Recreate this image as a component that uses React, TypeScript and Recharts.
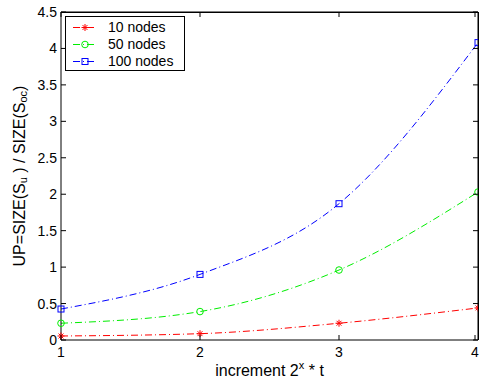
import React from "react";
import { LineChart, Line, XAxis, YAxis, Label, ReferenceLine } from "recharts";

const increments = [1, 2, 3, 4];
const nodes10 = [0.055, 0.087, 0.23, 0.44];
const nodes50 = [0.23, 0.39, 0.96, 2.03];
const nodes100 = [0.425, 0.9, 1.87, 4.08];
const xTicks = [1, 2, 3, 4];
const yTicks = [0, 0.5, 1, 1.5, 2, 2.5, 3, 3.5, 4, 4.5];

const seriesKeys = ["n10", "n50", "n100"];
const seriesNames = ["10 nodes", "50 nodes", "100 nodes"];
const seriesColors = ["#ff0000", "#00ee00", "#0000ff"];

const data = increments.map((x, i) => ({
  x,
  n10: nodes10[i],
  n50: nodes50[i],
  n100: nodes100[i],
}));

const FONT = "'Liberation Sans', Arial, Helvetica, sans-serif";
const DASH = "7 3 1 3";

// layout
const W = 479;
const H = 381;
const MARGIN = { top: 12, right: 1, left: 0, bottom: 0 };
const Y_AXIS_W = 61;
const X_AXIS_H = 41;
const PLOT_TOP = MARGIN.top;
const PLOT_LEFT = MARGIN.left + Y_AXIS_W;
const PLOT_RIGHT = W - MARGIN.right;
const PLOT_BOTTOM = H - MARGIN.bottom - X_AXIS_H;
const TICK_LEN = 5;

const Star = ({ cx, cy, color }: any) => {
  if (cx == null || cy == null) return null;
  const r = 3.5;
  const d = r * 0.7;
  return (
    <g stroke={color} strokeWidth={1}>
      <line x1={cx - r} y1={cy} x2={cx + r} y2={cy} />
      <line x1={cx} y1={cy - r} x2={cx} y2={cy + r} />
      <line x1={cx - d} y1={cy - d} x2={cx + d} y2={cy + d} />
      <line x1={cx - d} y1={cy + d} x2={cx + d} y2={cy - d} />
    </g>
  );
};

const Circle = ({ cx, cy, color }: any) => {
  if (cx == null || cy == null) return null;
  return <circle cx={cx} cy={cy} r={3.3} fill="none" stroke={color} strokeWidth={1} />;
};

const Square = ({ cx, cy, color }: any) => {
  if (cx == null || cy == null) return null;
  return <rect x={cx - 3} y={cy - 3} width={6} height={6} fill="none" stroke={color} strokeWidth={1} />;
};

const markers = [Star, Circle, Square];

// y ticks: label on the left, inward ticks on left and right edges
const YTick = ({ x, y, payload }: any) => {
  const axisX = x + 4;
  return (
    <g>
      <line x1={axisX} y1={y} x2={axisX + TICK_LEN} y2={y} style={{ stroke: "#000", strokeWidth: 1 }} />
      <line x1={PLOT_RIGHT - TICK_LEN} y1={y} x2={PLOT_RIGHT} y2={y} style={{ stroke: "#000", strokeWidth: 1 }} />
      <text x={x} y={y} dy={5} textAnchor="end" fontFamily={FONT} fontSize={14} fill="#000">
        {payload.value}
      </text>
    </g>
  );
};

// x ticks: label below, inward ticks on bottom and top edges
const XTick = ({ x, y, payload }: any) => (
  <g>
    <line x1={x} y1={y} x2={x} y2={y - TICK_LEN} style={{ stroke: "#000", strokeWidth: 1 }} />
    <line x1={x} y1={PLOT_TOP} x2={x} y2={PLOT_TOP + TICK_LEN} style={{ stroke: "#000", strokeWidth: 1 }} />
    <text x={x} y={y} dy={17} textAnchor="middle" fontFamily={FONT} fontSize={14} fill="#000">
      {payload.value}
    </text>
  </g>
);

const LegendBox = () => (
  <div
    style={{
      position: "absolute",
      left: 65,
      top: 16,
      border: "1px solid #000",
      background: "#fff",
      width: 118,
      height: 53,
      fontFamily: FONT,
      fontSize: 14,
      color: "#000",
      lineHeight: "17px",
    }}
  >
    {seriesNames.map((name, i) => {
      const M = markers[i];
      return (
        <div key={name} style={{ display: "flex", alignItems: "center", height: 17, marginTop: i === 0 ? 2 : 0 }}>
          <svg width={40} height={17} style={{ display: "block" }}>
            <line x1={7} y1={8.5} x2={31} y2={8.5} stroke={seriesColors[i]} strokeDasharray={DASH} strokeWidth={1} />
            <M cx={19} cy={8.5} color={seriesColors[i]} />
          </svg>
          <span style={{ marginLeft: 2 }}>{name}</span>
        </div>
      );
    })}
  </div>
);

const YLabel = ({ viewBox }: any) => {
  const cx = 19;
  const cy = viewBox.y + viewBox.height / 2;
  return (
    <text
      x={cx}
      y={cy}
      transform={`rotate(-90, ${cx}, ${cy})`}
      textAnchor="middle"
      dominantBaseline="central"
      fontFamily={FONT}
      fontSize={16}
      fill="#000"
    >
      UP=SIZE(S
      <tspan fontSize={11} dy={4}>u</tspan>
      <tspan dy={-4}> ) / SIZE(S</tspan>
      <tspan fontSize={11} dy={4}>oc</tspan>
      <tspan dy={-4}>)</tspan>
    </text>
  );
};

const XLabel = ({ viewBox }: any) => {
  const cx = viewBox.x + viewBox.width / 2;
  return (
    <text x={cx} y={376} textAnchor="middle" fontFamily={FONT} fontSize={16} fill="#000">
      increment 2
      <tspan fontSize={11} dy={-7}>x</tspan>
      <tspan dy={7}> * t</tspan>
    </text>
  );
};

export default function App() {
  return (
    <div style={{ position: "absolute", left: 0, top: 0, width: W, height: H, background: "#fff" }}>
      <LineChart width={W} height={H} data={data} margin={MARGIN}>
        <XAxis
          dataKey="x"
          type="number"
          domain={[1, 4]}
          ticks={xTicks}
          height={X_AXIS_H}
          tickSize={0}
          tickMargin={0}
          tickLine={false}
          tick={<XTick />}
          stroke="#000"
        >
          <Label content={<XLabel />} />
        </XAxis>
        <YAxis
          type="number"
          domain={[0, 4.5]}
          ticks={yTicks}
          width={Y_AXIS_W}
          tickSize={0}
          tickMargin={4}
          tickLine={false}
          tick={<YTick />}
          stroke="#000"
        >
          <Label content={<YLabel />} />
        </YAxis>
        <ReferenceLine y={4.5} stroke="#000" ifOverflow="extendDomain" />
        <ReferenceLine x={4} stroke="#000" ifOverflow="extendDomain" />
        {seriesKeys.map((key, i) => {
          const M = markers[i];
          return (
            <Line
              key={key}
              dataKey={key}
              name={seriesNames[i]}
              type="monotone"
              stroke={seriesColors[i]}
              strokeWidth={1}
              strokeDasharray={DASH}
              dot={(p: any) => <M key={`${key}-${p.index}`} cx={p.cx} cy={p.cy} color={seriesColors[i]} />}
              activeDot={false}
              isAnimationActive={false}
            />
          );
        })}
      </LineChart>
      {/* box frame (top and right edges of the axes) */}
      <div
        style={{
          position: "absolute",
          left: PLOT_LEFT,
          top: PLOT_TOP,
          width: PLOT_RIGHT - PLOT_LEFT + 1,
          height: PLOT_BOTTOM - PLOT_TOP,
          borderTop: "1px solid #000",
          borderRight: "1px solid #000",
          boxSizing: "border-box",
          pointerEvents: "none",
        }}
      />
      <LegendBox />
    </div>
  );
}
